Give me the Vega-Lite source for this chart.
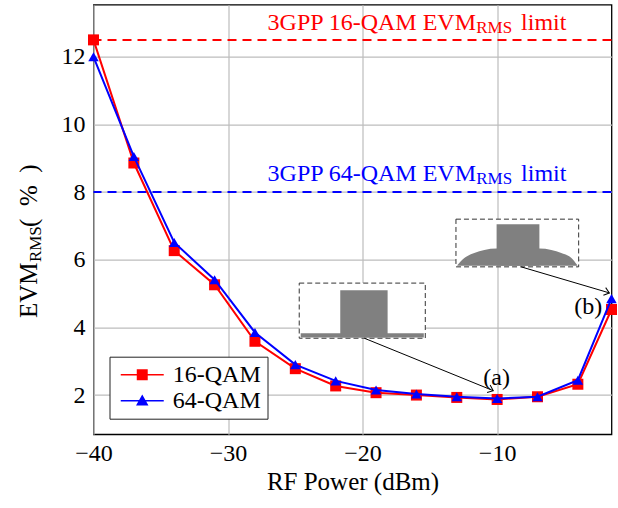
{
  "$schema": "https://vega.github.io/schema/vega-lite/v6.json",
  "width": 518,
  "height": 429.6,
  "autosize": {"type": "none"},
  "padding": {"left": 93.5, "top": 4.7, "right": 6.5, "bottom": 73.7},
  "background": "white",
  "config": {
    "font": "Liberation Serif",
    "view": {"stroke": "black", "strokeWidth": 1.3},
    "style": {
      "guide-label": {"font": "Liberation Serif", "fontSize": 24, "fill": "black"},
      "guide-title": {"font": "Liberation Serif", "fontSize": 25, "fill": "black", "fontWeight": "normal"}
    },
    "axis": {
      "grid": true, "gridColor": "#bdbdbd", "gridWidth": 1.2,
      "domain": false, "ticks": false,
      "labelFont": "Liberation Serif", "labelFontSize": 24, "labelColor": "black",
      "titleFont": "Liberation Serif", "titleFontSize": 25, "titleColor": "black", "titleFontWeight": "normal"
    },
    "axisX": {"tickCount": 4, "labelPadding": 7, "titleY": 55, "titleBaseline": "alphabetic", "labelFlush": false},
    "axisY": {"tickCount": 6, "labelPadding": 8.5}
  },
  "datasets": {
    "evm": [
      {"x": -40, "y": 12.5, "series": "16-QAM"},
      {"x": -37, "y": 8.86, "series": "16-QAM"},
      {"x": -34, "y": 6.27, "series": "16-QAM"},
      {"x": -31, "y": 5.26, "series": "16-QAM"},
      {"x": -28, "y": 3.59, "series": "16-QAM"},
      {"x": -25, "y": 2.78, "series": "16-QAM"},
      {"x": -22, "y": 2.27, "series": "16-QAM"},
      {"x": -19, "y": 2.07, "series": "16-QAM"},
      {"x": -16, "y": 2.0, "series": "16-QAM"},
      {"x": -13, "y": 1.93, "series": "16-QAM"},
      {"x": -10, "y": 1.87, "series": "16-QAM"},
      {"x": -7, "y": 1.95, "series": "16-QAM"},
      {"x": -4, "y": 2.32, "series": "16-QAM"},
      {"x": -1.5, "y": 4.53, "series": "16-QAM"},
      {"x": -40, "y": 12.0, "series": "64-QAM"},
      {"x": -37, "y": 9.05, "series": "64-QAM"},
      {"x": -34, "y": 6.51, "series": "64-QAM"},
      {"x": -31, "y": 5.41, "series": "64-QAM"},
      {"x": -28, "y": 3.85, "series": "64-QAM"},
      {"x": -25, "y": 2.9, "series": "64-QAM"},
      {"x": -22, "y": 2.42, "series": "64-QAM"},
      {"x": -19, "y": 2.15, "series": "64-QAM"},
      {"x": -16, "y": 2.03, "series": "64-QAM"},
      {"x": -13, "y": 1.95, "series": "64-QAM"},
      {"x": -10, "y": 1.9, "series": "64-QAM"},
      {"x": -7, "y": 1.95, "series": "64-QAM"},
      {"x": -4, "y": 2.44, "series": "64-QAM"},
      {"x": -1.5, "y": 4.85, "series": "64-QAM"}
    ],
    "boxes": [
      {"x": -24.71, "x2": -15.34, "y": 3.68, "y2": 5.31},
      {"x": -13.06, "x2": -3.94, "y": 5.79, "y2": 7.2}
    ],
    "spectrumBlocks": [
      {"x": -24.6, "x2": -15.45, "y": 3.7, "y2": 3.83},
      {"x": -21.66, "x2": -18.14, "y": 3.7, "y2": 5.1},
      {"x": -10.04, "x2": -6.86, "y": 5.82, "y2": 7.05}
    ],
    "dome": [
      {"x": -12.96, "y": 5.84},
      {"x": -12.44, "y": 6.05},
      {"x": -11.7, "y": 6.2},
      {"x": -10.95, "y": 6.29},
      {"x": -10.04, "y": 6.33},
      {"x": -6.86, "y": 6.33},
      {"x": -5.97, "y": 6.29},
      {"x": -5.23, "y": 6.2},
      {"x": -4.48, "y": 6.05},
      {"x": -4.04, "y": 5.84}
    ],
    "arrows": [
      {"x": -19.87, "y": 3.68, "x2": -10.29, "y2": 2.13},
      {"x": -8.22, "y": 5.79, "x2": -1.66, "y2": 5.02}
    ]
  },
  "layer": [
    {
      "data": {"values": [{"y": 12.5}]},
      "mark": {"type": "rule", "color": "#ff0000", "strokeWidth": 2, "strokeDash": [9, 6]},
      "encoding": {
        "y": {"field": "y", "type": "quantitative", "title": null, "scale": {"domain": [0.84, 13.54], "nice": false, "zero": false}}
      }
    },
    {
      "data": {"values": [{"y": 8}]},
      "mark": {"type": "rule", "color": "#0000ff", "strokeWidth": 2, "strokeDash": [9, 6]},
      "encoding": {
        "y": {"field": "y", "type": "quantitative", "title": null, "scale": {"domain": [0.84, 13.54], "nice": false, "zero": false}}
      }
    },
    {
      "data": {"values": [{"t": "3GPP 16-QAM EVM", "x": -11.57, "y": 12.79}]},
      "mark": {"type": "text", "align": "right", "baseline": "alphabetic", "fontSize": 24, "color": "#ff0000"},
      "encoding": {
        "x": {"field": "x", "type": "quantitative", "title": "RF Power (dBm)", "scale": {"domain": [-40, -1.5], "nice": false, "zero": false}},
        "y": {"field": "y", "type": "quantitative", "title": null, "scale": {"domain": [0.84, 13.54], "nice": false, "zero": false}},
        "text": {"field": "t"}
      }
    },
    {
      "data": {"values": [{"t": "RMS", "x": -11.55, "y": 12.71}]},
      "mark": {"type": "text", "align": "left", "baseline": "alphabetic", "fontSize": 17, "color": "#ff0000"},
      "encoding": {
        "x": {"field": "x", "type": "quantitative", "title": "RF Power (dBm)", "scale": {"domain": [-40, -1.5], "nice": false, "zero": false}},
        "y": {"field": "y", "type": "quantitative", "title": null, "scale": {"domain": [0.84, 13.54], "nice": false, "zero": false}},
        "text": {"field": "t"}
      }
    },
    {
      "data": {"values": [{"t": "limit", "x": -8.22, "y": 12.79}]},
      "mark": {"type": "text", "align": "left", "baseline": "alphabetic", "fontSize": 24, "color": "#ff0000"},
      "encoding": {
        "x": {"field": "x", "type": "quantitative", "title": "RF Power (dBm)", "scale": {"domain": [-40, -1.5], "nice": false, "zero": false}},
        "y": {"field": "y", "type": "quantitative", "title": null, "scale": {"domain": [0.84, 13.54], "nice": false, "zero": false}},
        "text": {"field": "t"}
      }
    },
    {
      "data": {"values": [{"t": "3GPP 64-QAM EVM", "x": -11.57, "y": 8.326}]},
      "mark": {"type": "text", "align": "right", "baseline": "alphabetic", "fontSize": 24, "color": "#0000ff"},
      "encoding": {
        "x": {"field": "x", "type": "quantitative", "title": "RF Power (dBm)", "scale": {"domain": [-40, -1.5], "nice": false, "zero": false}},
        "y": {"field": "y", "type": "quantitative", "title": null, "scale": {"domain": [0.84, 13.54], "nice": false, "zero": false}},
        "text": {"field": "t"}
      }
    },
    {
      "data": {"values": [{"t": "RMS", "x": -11.55, "y": 8.246}]},
      "mark": {"type": "text", "align": "left", "baseline": "alphabetic", "fontSize": 17, "color": "#0000ff"},
      "encoding": {
        "x": {"field": "x", "type": "quantitative", "title": "RF Power (dBm)", "scale": {"domain": [-40, -1.5], "nice": false, "zero": false}},
        "y": {"field": "y", "type": "quantitative", "title": null, "scale": {"domain": [0.84, 13.54], "nice": false, "zero": false}},
        "text": {"field": "t"}
      }
    },
    {
      "data": {"values": [{"t": "limit", "x": -8.22, "y": 8.326}]},
      "mark": {"type": "text", "align": "left", "baseline": "alphabetic", "fontSize": 24, "color": "#0000ff"},
      "encoding": {
        "x": {"field": "x", "type": "quantitative", "title": "RF Power (dBm)", "scale": {"domain": [-40, -1.5], "nice": false, "zero": false}},
        "y": {"field": "y", "type": "quantitative", "title": null, "scale": {"domain": [0.84, 13.54], "nice": false, "zero": false}},
        "text": {"field": "t"}
      }
    },
    {
      "data": {"name": "boxes"},
      "mark": {"type": "rect", "fill": "white", "stroke": "#333333", "strokeWidth": 1, "strokeDash": [5, 3]},
      "encoding": {
        "x": {"field": "x", "type": "quantitative", "title": "RF Power (dBm)", "scale": {"domain": [-40, -1.5], "nice": false, "zero": false}},
        "x2": {"field": "x2"},
        "y": {"field": "y", "type": "quantitative", "title": null, "scale": {"domain": [0.84, 13.54], "nice": false, "zero": false}},
        "y2": {"field": "y2"}
      }
    },
    {
      "data": {"name": "dome"},
      "mark": {"type": "area", "color": "#808080", "interpolate": "monotone"},
      "encoding": {
        "x": {"field": "x", "type": "quantitative", "title": "RF Power (dBm)", "scale": {"domain": [-40, -1.5], "nice": false, "zero": false}},
        "y": {"field": "y", "type": "quantitative", "title": null, "scale": {"domain": [0.84, 13.54], "nice": false, "zero": false}},
        "y2": {"datum": 5.82}
      }
    },
    {
      "data": {"name": "spectrumBlocks"},
      "mark": {"type": "rect", "color": "#808080"},
      "encoding": {
        "x": {"field": "x", "type": "quantitative", "title": "RF Power (dBm)", "scale": {"domain": [-40, -1.5], "nice": false, "zero": false}},
        "x2": {"field": "x2"},
        "y": {"field": "y", "type": "quantitative", "title": null, "scale": {"domain": [0.84, 13.54], "nice": false, "zero": false}},
        "y2": {"field": "y2"}
      }
    },
    {
      "data": {"name": "arrows"},
      "mark": {"type": "rule", "color": "black", "strokeWidth": 1},
      "encoding": {
        "x": {"field": "x", "type": "quantitative", "title": "RF Power (dBm)", "scale": {"domain": [-40, -1.5], "nice": false, "zero": false}},
        "x2": {"field": "x2"},
        "y": {"field": "y", "type": "quantitative", "title": null, "scale": {"domain": [0.84, 13.54], "nice": false, "zero": false}},
        "y2": {"field": "y2"}
      }
    },
    {
      "data": {"values": [{"x": -10.29, "y": 2.13}]},
      "mark": {"type": "point", "shape": "M-1,-0.8L0,0L-1,0.8", "filled": false, "color": "black", "strokeWidth": 1, "size": 100, "angle": 22.3, "opacity": 1},
      "encoding": {
        "x": {"field": "x", "type": "quantitative", "title": "RF Power (dBm)", "scale": {"domain": [-40, -1.5], "nice": false, "zero": false}},
        "y": {"field": "y", "type": "quantitative", "title": null, "scale": {"domain": [0.84, 13.54], "nice": false, "zero": false}}
      }
    },
    {
      "data": {"values": [{"x": -1.66, "y": 5.02}]},
      "mark": {"type": "point", "shape": "M-1,-0.8L0,0L-1,0.8", "filled": false, "color": "black", "strokeWidth": 1, "size": 100, "angle": 16.4, "opacity": 1},
      "encoding": {
        "x": {"field": "x", "type": "quantitative", "title": "RF Power (dBm)", "scale": {"domain": [-40, -1.5], "nice": false, "zero": false}},
        "y": {"field": "y", "type": "quantitative", "title": null, "scale": {"domain": [0.84, 13.54], "nice": false, "zero": false}}
      }
    },
    {
      "data": {"values": [
        {"t": "(a)", "x": -10.04, "y": 2.3},
        {"t": "(b)", "x": -3.22, "y": 4.41}
      ]},
      "mark": {"type": "text", "align": "center", "baseline": "alphabetic", "fontSize": 24, "color": "black"},
      "encoding": {
        "x": {"field": "x", "type": "quantitative", "title": "RF Power (dBm)", "scale": {"domain": [-40, -1.5], "nice": false, "zero": false}},
        "y": {"field": "y", "type": "quantitative", "title": null, "scale": {"domain": [0.84, 13.54], "nice": false, "zero": false}},
        "text": {"field": "t"}
      }
    },
    {
      "data": {"name": "evm"},
      "transform": [{"filter": "datum.series === '16-QAM'"}],
      "mark": {"type": "line", "strokeWidth": 2},
      "encoding": {
        "x": {"field": "x", "type": "quantitative", "title": "RF Power (dBm)", "scale": {"domain": [-40, -1.5], "nice": false, "zero": false},
          "axis": {"labelFont": "Liberation Serif", "titleFont": "Liberation Serif",
            "encode": {"labels": {"update": {"font": {"value": "Liberation Serif"}}}, "title": {"update": {"font": {"value": "Liberation Serif"}}}}}},
        "y": {"field": "y", "type": "quantitative", "title": null, "scale": {"domain": [0.84, 13.54], "nice": false, "zero": false},
          "axis": {"labelFont": "Liberation Serif",
            "encode": {"labels": {"update": {"font": {"value": "Liberation Serif"}}}}}},
        "color": {"field": "series", "type": "nominal", "scale": {"domain": ["16-QAM", "64-QAM"], "range": ["#ff0000", "#0000ff"]},
          "legend": {
            "title": null, "orient": "none", "legendX": 16, "legendY": 352, "direction": "vertical",
            "fillColor": "white", "strokeColor": "#222222", "cornerRadius": 0, "padding": 6,
            "labelFont": "Liberation Serif", "labelFontSize": 24, "labelColor": "black",
            "symbolSize": 462, "symbolOffset": 14.75, "labelOffset": 18.5, "rowPadding": 2,
            "encode": {
              "legend": {"update": {"strokeWidth": {"value": 1}}},
              "labels": {"update": {"font": {"value": "Liberation Serif"}}},
              "symbols": {"update": {
                "shape": {"signal": "datum.value === '16-QAM' ? 'M-2,-0.07H2V0.07H-2Z M-0.51,-0.51H0.51V0.51H-0.51Z' : 'M-2,-0.07H2V0.07H-2Z M0,-0.58L0.58,0.44H-0.58Z'"},
                "fill": {"signal": "datum.value === '16-QAM' ? '#ff0000' : '#0000ff'"},
                "stroke": {"value": "transparent"},
                "strokeWidth": {"value": 0},
                "opacity": {"value": 1},
                "fillOpacity": {"value": 1}
              }}
            }
          }}
      }
    },
    {
      "data": {"name": "evm"},
      "transform": [{"filter": "datum.series === '16-QAM'"}],
      "mark": {"type": "point", "shape": "square", "filled": true, "size": 121, "opacity": 1},
      "encoding": {
        "x": {"field": "x", "type": "quantitative", "title": "RF Power (dBm)", "scale": {"domain": [-40, -1.5], "nice": false, "zero": false}},
        "y": {"field": "y", "type": "quantitative", "title": null, "scale": {"domain": [0.84, 13.54], "nice": false, "zero": false}},
        "color": {"field": "series", "type": "nominal"}
      }
    },
    {
      "data": {"name": "evm"},
      "transform": [{"filter": "datum.series === '64-QAM'"}],
      "mark": {"type": "line", "strokeWidth": 2},
      "encoding": {
        "x": {"field": "x", "type": "quantitative", "title": "RF Power (dBm)", "scale": {"domain": [-40, -1.5], "nice": false, "zero": false}},
        "y": {"field": "y", "type": "quantitative", "title": null, "scale": {"domain": [0.84, 13.54], "nice": false, "zero": false}},
        "color": {"field": "series", "type": "nominal"}
      }
    },
    {
      "data": {"name": "evm"},
      "transform": [{"filter": "datum.series === '64-QAM'"}],
      "mark": {"type": "point", "shape": "triangle-up", "filled": true, "size": 110, "opacity": 1},
      "encoding": {
        "x": {"field": "x", "type": "quantitative", "title": "RF Power (dBm)", "scale": {"domain": [-40, -1.5], "nice": false, "zero": false}},
        "y": {"field": "y", "type": "quantitative", "title": null, "scale": {"domain": [0.84, 13.54], "nice": false, "zero": false}},
        "color": {"field": "series", "type": "nominal"}
      }
    },
    {
      "data": {"values": [
        {"t": "EVM", "x": -44.2, "y": 4.276},
        {"t": "(\u2002%\u2002)", "x": -44.2, "y": 6.97}
      ]},
      "mark": {"type": "text", "align": "left", "baseline": "alphabetic", "angle": 270, "fontSize": 25, "color": "black"},
      "encoding": {
        "x": {"field": "x", "type": "quantitative", "title": "RF Power (dBm)", "scale": {"domain": [-40, -1.5], "nice": false, "zero": false}},
        "y": {"field": "y", "type": "quantitative", "title": null, "scale": {"domain": [0.84, 13.54], "nice": false, "zero": false}},
        "text": {"field": "t"}
      }
    },
    {
      "data": {"values": [{"t": "RMS", "x": -43.93, "y": 5.93}]},
      "mark": {"type": "text", "align": "left", "baseline": "alphabetic", "angle": 270, "fontSize": 17, "color": "black"},
      "encoding": {
        "x": {"field": "x", "type": "quantitative", "title": "RF Power (dBm)", "scale": {"domain": [-40, -1.5], "nice": false, "zero": false}},
        "y": {"field": "y", "type": "quantitative", "title": null, "scale": {"domain": [0.84, 13.54], "nice": false, "zero": false}},
        "text": {"field": "t"}
      }
    }
  ]
}
